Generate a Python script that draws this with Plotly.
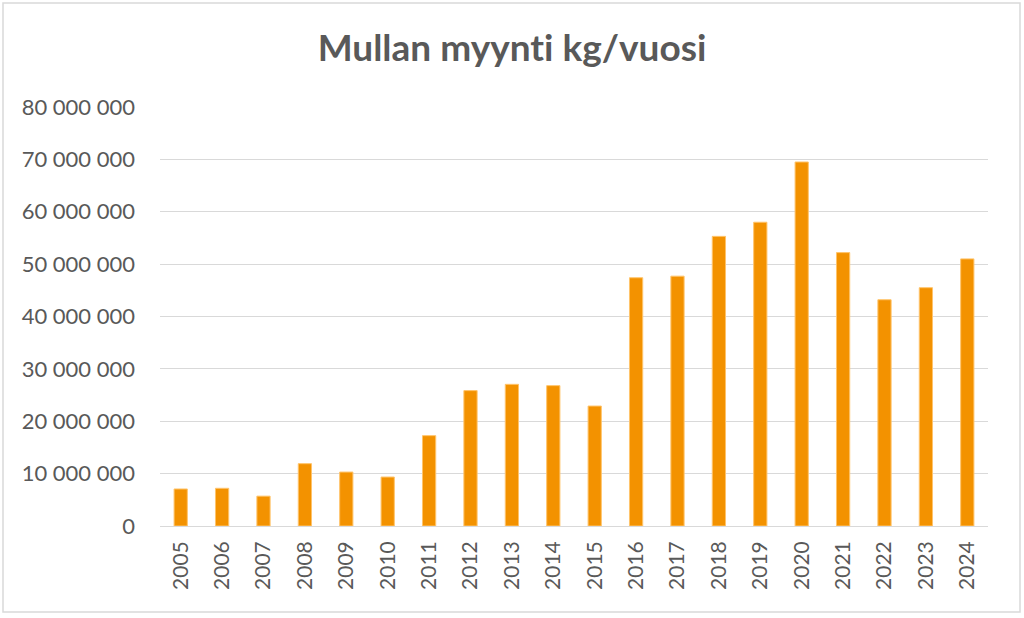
import plotly.graph_objects as go

years = [str(y) for y in range(2005, 2025)]
sales_kg = [7.07e6, 7.2e6, 5.7e6, 11.9e6, 10.3e6, 9.35e6, 17.25e6, 25.85e6, 27.05e6, 26.8e6,
            22.9e6, 47.4e6, 47.7e6, 55.3e6, 58.0e6, 69.5e6, 52.2e6, 43.2e6, 45.5e6, 51.0e6]
y_ticks = [0, 10e6, 20e6, 30e6, 40e6, 50e6, 60e6, 70e6, 80e6]

W, H = 1024, 618
L, R, T, B = 160, 36, 107, 92
pw, ph = W - L - R, H - T - B

fig = go.Figure(go.Bar(
    x=years, y=sales_kg,
    marker=dict(color="#F39200", line=dict(color="#FFC46B", width=1)),
    hoverinfo="x+y",
))

fig.update_layout(
    width=W, height=H,
    margin=dict(l=L, r=R, t=T, b=B),
    paper_bgcolor="white", plot_bgcolor="white",
    separators=", ",
    bargap=0.68,
    showlegend=False,
    title=dict(text="<b>Mullan myynti kg/vuosi</b>", x=0.5, xanchor="center",
               y=1 - 48 / H, yanchor="middle",
               font=dict(family="Lato", size=37, color="#595959")),
    font=dict(family="Lato", color="#595959"),
    xaxis=dict(tickangle=-90, tickfont=dict(size=21, color="#595959"),
               showgrid=False, showline=False, ticks="", ticklen=0,
               ticklabelstandoff=10),
    yaxis=dict(range=[0, 80e6], tickvals=y_ticks, tickformat=",d",
               tickfont=dict(size=22, color="#595959"),
               showgrid=True, gridcolor="#D9D9D9", gridwidth=1,
               zeroline=True, zerolinecolor="#D9D9D9", zerolinewidth=1,
               showline=False, ticks="", ticklabelstandoff=24),
    shapes=[dict(type="rect", xref="paper", yref="paper",
                 x0=(3 - L) / pw, x1=(1020 - L) / pw,
                 y0=-(612 - T - ph) / ph, y1=1 + (T - 3) / ph,
                 line=dict(color="#D9D9D9", width=1.5), fillcolor="rgba(0,0,0,0)", layer="below")],
)

post = ("document.body.style.margin='0';document.body.style.overflow='hidden';"
        "var s=document.createElement('style');"
        "s.textContent='svg text{font-variant-ligatures:none;font-feature-settings:\"liga\" 0;}';"
        "document.head.appendChild(s);")
fig.write_html("out.html", config={"displayModeBar": False}, post_script=post)
